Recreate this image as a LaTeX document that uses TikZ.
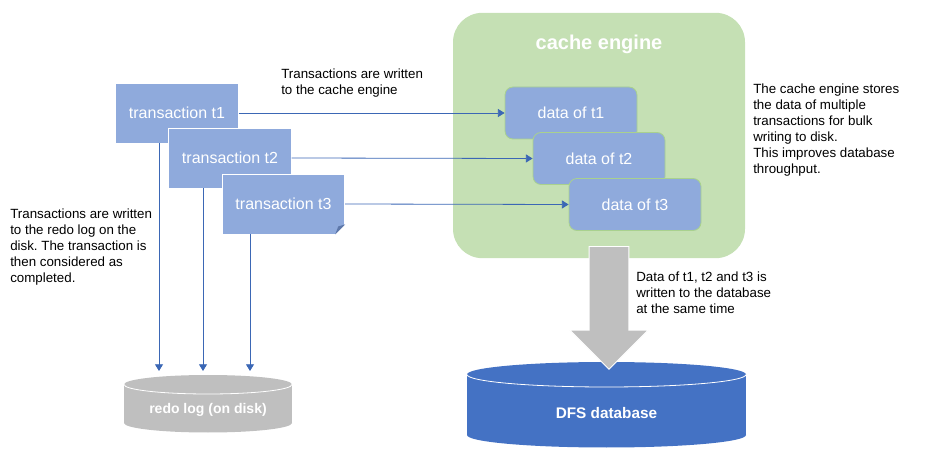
\documentclass[tikz,border=0pt]{standalone}
\usepackage{fontspec}
\setmainfont{Liberation Sans}
\usetikzlibrary{arrows.meta,shapes.arrows,calc}
\frenchspacing

\definecolor{txbox}{HTML}{8FAADC}
\definecolor{cachebg}{HTML}{C5E0B4}
\definecolor{cacheline}{HTML}{A9D18E}
\definecolor{disk}{HTML}{BFBFBF}
\definecolor{dfs}{HTML}{4472C4}
\definecolor{flow}{HTML}{3B67B5}
\definecolor{fold}{HTML}{5E78AA}

% cylinder: centre x, top y, bottom y, x radius, y radius, colour
\newcommand{\drum}[6]{%
  \fill[#6] (#1-#4,#2) rectangle (#1+#4,#3);
  \fill[#6] (#1,#3) ellipse [x radius=#4, y radius=#5];
  \fill[#6] (#1,#2) ellipse [x radius=#4, y radius=#5];
  \draw[white, line width=0.6pt] (#1-#4,#2) arc[start angle=180, end angle=0, x radius=#4, y radius=#5];
}

\tikzset{
  txn/.style={rectangle, fill=txbox, draw=white, line width=0.6pt,
    minimum width=92pt, minimum height=45pt, text=white,
    font=\fontsize{12}{14}\selectfont},
  datablk/.style={rectangle, rounded corners=6pt, fill=txbox, draw=cacheline,
    line width=0.6pt, minimum width=99pt, minimum height=39pt, text=white,
    font=\fontsize{12}{14}\selectfont},
  cachebox/.style={rectangle, rounded corners=22pt, fill=cachebg,
    minimum width=219pt, minimum height=184pt},
  note/.style={anchor=north west, inner sep=0pt, align=left,
    font=\fontsize{10}{12}\selectfont},
  flowline/.style={draw=flow, line width=0.6pt, -{Triangle[width=6pt,length=5pt]}},
  drumlabel/.style={text=white, font=\bfseries\fontsize{10.5}{12}\selectfont},
  bulkarrow/.style={single arrow, fill=disk, draw=white, line width=0.6pt,
    minimum height=92pt, inner xsep=0pt, inner ysep=14.6pt,
    single arrow head extend=14.4pt, single arrow tip angle=90,
    single arrow head indent=0pt, rotate=-90}
}

\begin{document}
\begin{tikzpicture}[x=0.75pt, y=-0.75pt]
  \useasboundingbox (0,0) rectangle (928,459);

  % cache engine
  \node[cachebox] (cache) at (599,135.5) {};
  \node[text=white, font=\bfseries\fontsize{15}{18}\selectfont] (cachettl) at (599,44) {cache engine};
  \node[datablk] (d1) at (571,113) {data of t1};
  \node[datablk] (d2) at (599,158.5) {data of t2};
  \node[datablk] (d3) at (635,204.5) {data of t3};

  % transactions
  \node[txn] (t1) at (177,113) {transaction t1};
  \node[txn] (t2) at (230,158) {transaction t2};
  \node[txn] (t3) at (283.5,204) {transaction t3};
  \fill[white] ($(t3.south east)+(-10,0)$) -- (t3.south east) -- ($(t3.south east)+(0,-10)$) -- cycle;
  \fill[fold] ($(t3.south east)+(-10,0)$) -- ($(t3.south east)+(0,-10)$) -- ($(t3.south east)+(-7,-8)$) -- cycle;

  \draw[flowline] (t1.east) -- (d1.west);
  \draw[flowline] (t2.east) -- (d2.west);
  \draw[flowline] (t3.east) -- (d3.west);

  % disks
  \drum{208}{384.5}{423}{84}{9.5}{disk}
  \node[drumlabel] (redo) at (208,410) {redo log (on disk)};
  \drum{606.5}{374.5}{435}{139.5}{12.5}{dfs}
  \node[drumlabel, font=\bfseries\fontsize{11.5}{13}\selectfont] (dfsdb) at (606.5,413) {DFS database};

  \coordinate (redotop) at (208,371);
  \coordinate (r1) at ($(t1.south)+(-18,0)$);
  \coordinate (r2) at ($(t2.south)+(-27,0)$);
  \coordinate (r3) at ($(t3.south)+(-33.5,0)$);
  \draw[flowline] (r1) -- (r1 |- redotop);
  \draw[flowline] (r2) -- (r2 |- redotop);
  \draw[flowline] (r3) -- (r3 |- redotop);

  \node[bulkarrow] (bulk) at (609,298) {};

  % notes
  \node[note] (n1) at (281,69) {Transactions are written\\to the cache engine};
  \node[note] (n2) at (753,84) {The cache engine stores\\the data of multiple\\transactions for bulk\\writing to disk.\\This improves database\\throughput.};
  \node[note] (n3) at (10,209) {Transactions are written\\to the redo log on the\\disk. The transaction is\\then considered as\\completed.};
  \node[note] (n4) at (636,272) {Data of t1, t2 and t3 is\\written to the database\\at the same time};
\end{tikzpicture}
\end{document}
